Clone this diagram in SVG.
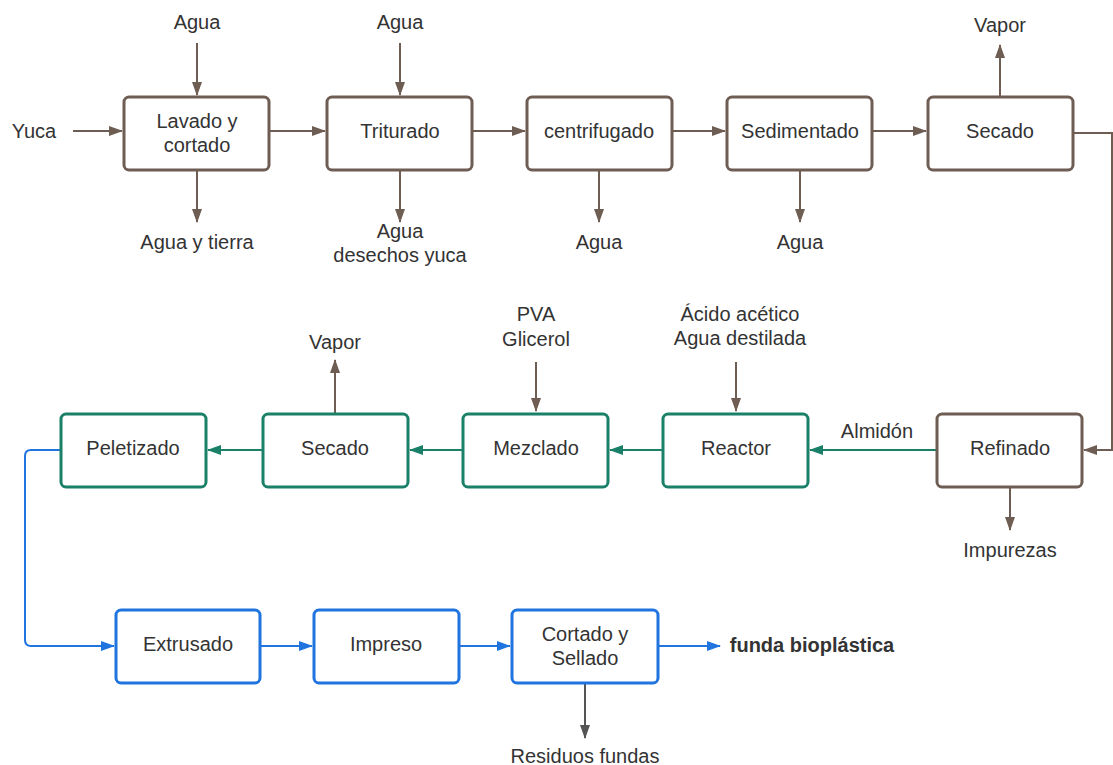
<svg xmlns="http://www.w3.org/2000/svg" width="1113" height="765" viewBox="0 0 1113 765">
<style>
text{font-family:"Liberation Sans",Arial,sans-serif;font-size:20px;fill:#333;text-anchor:middle;dominant-baseline:central}
.b{fill:#fff;stroke:#6e5d52;stroke-width:3}
.t{fill:#fff;stroke:#1a8068;stroke-width:3}
.u{fill:#fff;stroke:#1f74e0;stroke-width:3}
.lb{fill:none;stroke:#6e5d52;stroke-width:2}
.lt{fill:none;stroke:#1a8068;stroke-width:2}
.lu{fill:none;stroke:#1f74e0;stroke-width:2}
.lg{fill:none;stroke:#555;stroke-width:2}
.bold{font-weight:bold}
</style>
<defs>
<marker id="ab" markerWidth="14" markerHeight="12" refX="13" refY="6" orient="auto" markerUnits="userSpaceOnUse"><path d="M0,1 L14,6 L0,11 Z" fill="#6e5d52"/></marker>
<marker id="at" markerWidth="14" markerHeight="12" refX="13" refY="6" orient="auto" markerUnits="userSpaceOnUse"><path d="M0,1 L14,6 L0,11 Z" fill="#1a8068"/></marker>
<marker id="au" markerWidth="14" markerHeight="12" refX="13" refY="6" orient="auto" markerUnits="userSpaceOnUse"><path d="M0,1 L14,6 L0,11 Z" fill="#1f74e0"/></marker>
<marker id="ag" markerWidth="14" markerHeight="12" refX="13" refY="6" orient="auto" markerUnits="userSpaceOnUse"><path d="M0,1 L14,6 L0,11 Z" fill="#555"/></marker>
</defs>
<rect width="1113" height="765" fill="#fff"/>
<g id="connectors">
<path class="lb" d="M73,131 H122" marker-end="url(#ab)"/>
<path class="lb" d="M197,43 V95" marker-end="url(#ab)"/>
<path class="lb" d="M197,170 V222" marker-end="url(#ab)"/>
<path class="lb" d="M269,131 H325" marker-end="url(#ab)"/>
<path class="lb" d="M400,43 V95" marker-end="url(#ab)"/>
<path class="lb" d="M400,170 V222" marker-end="url(#ab)"/>
<path class="lb" d="M472,131 H525" marker-end="url(#ab)"/>
<path class="lb" d="M599,170 V222" marker-end="url(#ab)"/>
<path class="lb" d="M672,131 H725" marker-end="url(#ab)"/>
<path class="lb" d="M800,170 V222" marker-end="url(#ab)"/>
<path class="lb" d="M872,131 H926" marker-end="url(#ab)"/>
<path class="lb" d="M1000,97 V45" marker-end="url(#ab)"/>
<path class="lb" d="M1073,133 H1112 V450 H1084" marker-end="url(#ab)"/>
<path class="lb" d="M1010,487 V530" marker-end="url(#ab)"/>
<path class="lt" d="M937,450 H810" marker-end="url(#at)"/>
<path class="lb" d="M736,362 V411" marker-end="url(#ab)"/>
<path class="lt" d="M663,450 H610" marker-end="url(#at)"/>
<path class="lb" d="M536,362 V411" marker-end="url(#ab)"/>
<path class="lt" d="M463,450 H410" marker-end="url(#at)"/>
<path class="lb" d="M335,414 V360" marker-end="url(#ab)"/>
<path class="lt" d="M263,450 H208" marker-end="url(#at)"/>
<path class="lu" d="M61,450 H31 Q25,450 25,456 V640 Q25,646 31,646 H114" marker-end="url(#au)"/>
<path class="lu" d="M260,646 H312" marker-end="url(#au)"/>
<path class="lu" d="M459,646 H510" marker-end="url(#au)"/>
<path class="lu" d="M658,646 H720" marker-end="url(#au)"/>
<path class="lg" d="M585,683 V738" marker-end="url(#ag)"/>
</g>
<g id="labels">
<text x="34" y="131">Yuca</text>
<text x="197" y="22">Agua</text>
<text x="197" y="242">Agua y tierra</text>
<text x="400" y="22">Agua</text>
<text x="400" y="231">Agua</text>
<text x="400" y="255">desechos yuca</text>
<text x="599" y="242">Agua</text>
<text x="800" y="242">Agua</text>
<text x="1000" y="25">Vapor</text>
<text x="335" y="342">Vapor</text>
<text x="536" y="314">PVA</text>
<text x="536" y="339">Glicerol</text>
<text x="740" y="314">Ácido acético</text>
<text x="740" y="338">Agua destilada</text>
<text x="877" y="431">Almidón</text>
<text x="1010" y="550">Impurezas</text>
<text x="812" y="645" class="bold">funda bioplástica</text>
<text x="585" y="756">Residuos fundas</text>
</g>
<g id="n-lavado"><rect class="b" x="124" y="97" width="145" height="73" rx="5"/><text x="197" y="121">Lavado y</text><text x="197" y="145">cortado</text></g>
<g id="n-triturado"><rect class="b" x="327" y="97" width="145" height="73" rx="5"/><text x="400" y="131">Triturado</text></g>
<g id="n-centrifugado"><rect class="b" x="527" y="97" width="145" height="73" rx="5"/><text x="599" y="131">centrifugado</text></g>
<g id="n-sedimentado"><rect class="b" x="727" y="97" width="145" height="73" rx="5"/><text x="800" y="131">Sedimentado</text></g>
<g id="n-secado1"><rect class="b" x="928" y="97" width="145" height="73" rx="5"/><text x="1000" y="131">Secado</text></g>
<g id="n-refinado"><rect class="b" x="937" y="414" width="145" height="73" rx="5"/><text x="1010" y="448">Refinado</text></g>
<g id="n-reactor"><rect class="t" x="663" y="414" width="145" height="73" rx="5"/><text x="736" y="448">Reactor</text></g>
<g id="n-mezclado"><rect class="t" x="463" y="414" width="145" height="73" rx="5"/><text x="536" y="448">Mezclado</text></g>
<g id="n-secado2"><rect class="t" x="263" y="414" width="145" height="73" rx="5"/><text x="335" y="448">Secado</text></g>
<g id="n-peletizado"><rect class="t" x="61" y="414" width="145" height="73" rx="5"/><text x="133" y="448">Peletizado</text></g>
<g id="n-extrusado"><rect class="u" x="116" y="610" width="144" height="73" rx="5"/><text x="188" y="644">Extrusado</text></g>
<g id="n-impreso"><rect class="u" x="314" y="610" width="145" height="73" rx="5"/><text x="386" y="644">Impreso</text></g>
<g id="n-cortado"><rect class="u" x="512" y="610" width="146" height="73" rx="5"/><text x="585" y="634">Cortado y</text><text x="585" y="658">Sellado</text></g>
</svg>
